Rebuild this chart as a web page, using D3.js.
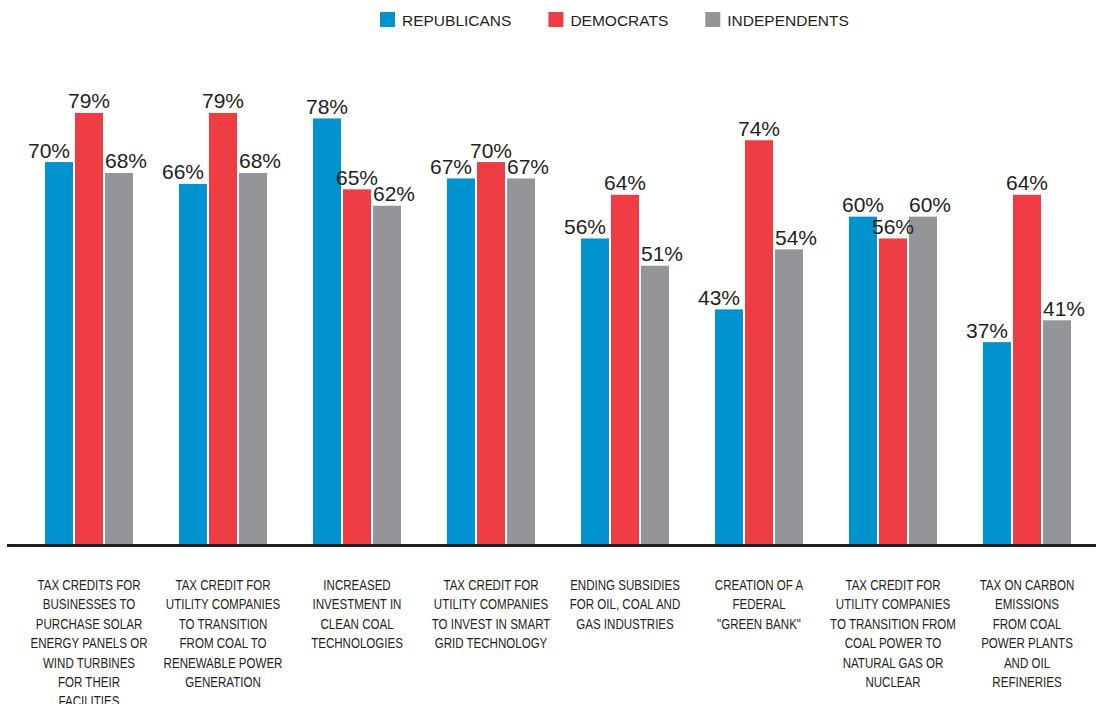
<!DOCTYPE html>
<html>
<head>
<meta charset="utf-8">
<script src="https://cdn.jsdelivr.net/npm/d3@7/dist/d3.min.js"></script>
<style>
  html, body { margin: 0; padding: 0; background: #fff; }
  svg { display: block; }
</style>
</head>
<body>
<svg id="chart" width="1096" height="704"></svg>
<script>
// Support for energy policies by party (percent)
const categories = [
  ["TAX CREDITS FOR", "BUSINESSES TO", "PURCHASE SOLAR", "ENERGY PANELS OR", "WIND TURBINES", "FOR THEIR", "FACILITIES"],
  ["TAX CREDIT FOR", "UTILITY COMPANIES", "TO TRANSITION", "FROM COAL TO", "RENEWABLE POWER", "GENERATION"],
  ["INCREASED", "INVESTMENT IN", "CLEAN COAL", "TECHNOLOGIES"],
  ["TAX CREDIT FOR", "UTILITY COMPANIES", "TO INVEST IN SMART", "GRID TECHNOLOGY"],
  ["ENDING SUBSIDIES", "FOR OIL, COAL AND", "GAS INDUSTRIES"],
  ["CREATION OF A", "FEDERAL", "\"GREEN BANK\""],
  ["TAX CREDIT FOR", "UTILITY COMPANIES", "TO TRANSITION FROM", "COAL POWER TO", "NATURAL GAS OR", "NUCLEAR"],
  ["TAX ON CARBON", "EMISSIONS", "FROM COAL", "POWER PLANTS", "AND OIL", "REFINERIES"]
];
const seriesNames = ["REPUBLICANS", "DEMOCRATS", "INDEPENDENTS"];
const seriesColors = ["#0093d0", "#ee3d42", "#939598"];
const republicans  = [70, 66, 78, 67, 56, 43, 60, 37];
const democrats    = [79, 79, 65, 70, 64, 74, 56, 64];
const independents = [68, 68, 62, 67, 51, 54, 60, 41];

const values = [republicans, democrats, independents];
const textColor = "#231f20";

const svg = d3.select("#chart");
const W = 1096;

const x0 = d3.scaleBand()
  .domain(d3.range(categories.length))
  .range([22, 1094])
  .paddingInner(0.343)
  .paddingOuter(0.1716);

const x1 = d3.scaleBand()
  .domain(d3.range(seriesNames.length))
  .range([0, x0.bandwidth()])
  .paddingInner(0.0667)
  .paddingOuter(0);

const y = d3.scaleLinear().domain([0, 100]).range([544, -1.6]);

// Bars
const groups = svg.append("g").selectAll("g")
  .data(categories.map((c, i) => i))
  .join("g")
  .attr("transform", i => `translate(${x0(i)},0)`);

groups.selectAll("rect")
  .data(i => values.map((v, s) => ({ s, v: v[i], i })))
  .join("rect")
  .attr("x", d => x1(d.s))
  .attr("y", d => y(d.v))
  .attr("width", x1.bandwidth())
  .attr("height", d => y(0) - y(d.v))
  .attr("fill", d => seriesColors[d.s]);

// Value labels: blue nudged left when the red bar is taller, grey always nudged right
groups.selectAll("text")
  .data(i => values.map((v, s) => ({ s, v: v[i], i })))
  .join("text")
  .attr("x", d => {
    if (d.s === 0 && democrats[d.i] > d.v) return x1(0) + x1.bandwidth() - 3;
    if (d.s === 2) return x1(2);
    return x1(d.s) + x1.bandwidth() / 2;
  })
  .attr("text-anchor", d => {
    if (d.s === 0 && democrats[d.i] > d.v) return "end";
    if (d.s === 2) return "start";
    return "middle";
  })
  .attr("y", d => y(d.v) - 4.5)
  .attr("font-family", "'Liberation Sans', Arial, Helvetica, sans-serif")
  .attr("font-size", 21)
  .attr("fill", textColor)
  .text(d => d.v + "%");

// Baseline
svg.append("line")
  .attr("x1", 7).attr("x2", W)
  .attr("y1", y(0) + 1.5).attr("y2", y(0) + 1.5)
  .attr("stroke", "#231f20")
  .attr("stroke-width", 3);

// Category labels, horizontally condensed
const catLabels = svg.append("g").selectAll("text")
  .data(categories)
  .join("text")
  .attr("text-anchor", "middle")
  .attr("font-family", "'Liberation Sans', Arial, Helvetica, sans-serif")
  .attr("font-size", 15)
  .attr("fill", textColor)
  .attr("transform", (c, i) => `translate(${x0(i) + x0.bandwidth() / 2},590) scale(0.77,1)`);

catLabels.selectAll("tspan")
  .data(c => c)
  .join("tspan")
  .attr("x", 0)
  .attr("y", (t, j) => j * 19.4)
  .text(t => t);

// Legend
const legend = svg.append("g").attr("transform", "translate(380,0)");
let lx = 0;
seriesNames.forEach((name, s) => {
  const item = legend.append("g").attr("transform", `translate(${lx},0)`);
  item.append("rect")
    .attr("x", 0).attr("y", 12)
    .attr("width", 15).attr("height", 15)
    .attr("fill", seriesColors[s]);
  const t = item.append("text")
    .attr("x", 22).attr("y", 26)
    .attr("font-family", "'Liberation Sans', Arial, Helvetica, sans-serif")
    .attr("font-size", 15.5)
    .attr("fill", textColor)
    .text(name);
  lx += 22 + t.node().getComputedTextLength() + 37;
});
</script>
</body>
</html>
